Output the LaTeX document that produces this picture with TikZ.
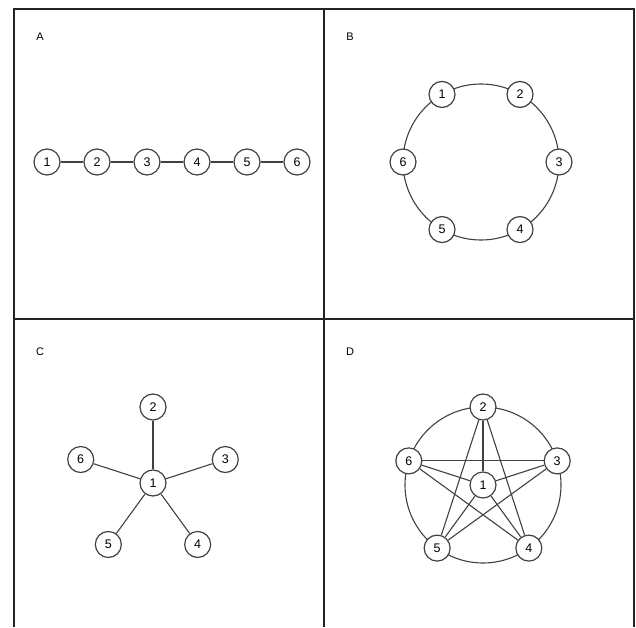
\documentclass[tikz,border=0pt]{standalone}
\usepackage{fontspec}
\setmainfont{Liberation Sans}
\usetikzlibrary{positioning,calc}
\definecolor{lncol}{RGB}{65,65,65}
\definecolor{frcol}{RGB}{35,35,35}
\tikzset{
  vtx/.style  ={draw=lncol, fill=white, circle, line width=1.2pt, minimum size=26pt,
                inner sep=0pt, font=\fontsize{12.5}{14}\selectfont},
  lnk/.style  ={draw=lncol, line width=1.1pt},
  frm/.style  ={draw=frcol, line width=1.6pt},
  plab/.style ={font=\fontsize{11}{13}\selectfont},
}

\begin{document}
\begin{tikzpicture}[x=1pt,y=1pt]
\useasboundingbox (0,0) rectangle (636,627);

%% Frame
\coordinate (fbl) at (14,0);
\coordinate (ftl) at (14,618);
\coordinate (ftr) at (634,618);
\coordinate (fbr) at (634,0);
\coordinate (ftm) at (324,618);
\coordinate (fbm) at (324,0);
\coordinate (fml) at (14,308);
\coordinate (fmr) at (634,308);
\draw[frm] (fbl) -- (ftl) -- (ftr) -- (fbr);
\draw[frm, line width=1.3pt] (ftm) -- (fbm);
\draw[frm, line width=1.3pt] (fml) -- (fmr);

%% Panel labels
\node[plab] (labA) at (40,590) {A};
\node[plab] (labB) at (350,590) {B};
\node[plab] (labC) at (40,275) {C};
\node[plab] (labD) at (350,275) {D};

%% A: line
\node[vtx] (a1) at (47,465) {1};
\foreach \i [count=\j from 1] in {2,...,6}
  \node[vtx, right=22.8pt of a\j] (a\i) {\i};
\foreach \i [count=\j from 1] in {2,...,6}
  \draw[lnk] (a\j) -- (a\i);

%% B: ring
\coordinate (bc) at (481,465);
\draw[lnk] (bc) circle (78);
\foreach \i/\ang in {1/120,2/60,3/0,4/-60,5/-120,6/180}
  \node[vtx] (b\i) at ($(bc)+(\ang:78)$) {\i};

%% C: star
\node[vtx] (c1) at (153,144) {1};
\foreach \i/\ang in {2/90,3/18,4/-54,5/-126,6/162}{
  \node[vtx] (c\i) at ($(c1)+(\ang:76)$) {\i};
  \draw[lnk] (c1) -- (c\i);
}

%% D: mesh
\coordinate (dc) at (483,142);
\draw[lnk] (dc) circle (78);
\foreach \i/\ang in {2/90,3/18,4/-54,5/-126,6/162}
  \node[vtx] (d\i) at ($(dc)+(\ang:78)$) {\i};
\node[vtx] (d1) at (dc) {1};
\foreach \p/\q in {2/4,2/5,3/5,3/6,4/6}
  \draw[lnk] (d\p) -- (d\q);
\foreach \i in {2,...,6}
  \draw[lnk] (d1) -- (d\i);

\end{tikzpicture}
\end{document}
